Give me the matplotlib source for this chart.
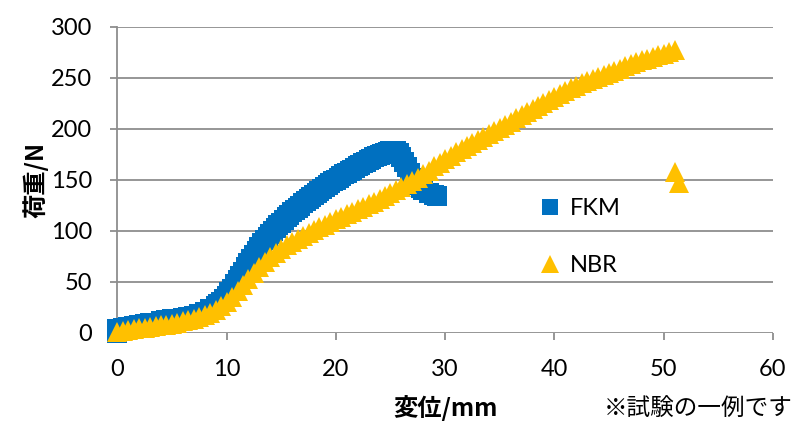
import matplotlib
matplotlib.use("Agg")
import matplotlib.pyplot as plt

# 変位 (mm) と 荷重 (N) -- グラフから読み取った値
fkm_x = [0, 0, 0.5, 1, 1.5, 2, 2.5, 3, 3.5, 4, 4.5, 5, 5.5, 6, 6.5, 7, 7.5, 8, 8.5,
         9, 9.25, 9.5, 9.75, 10, 10.25, 10.5, 10.75, 11, 11.25, 11.5, 11.75,
         12, 12.25, 12.5, 12.75, 13, 13.25, 13.5, 13.75, 14, 14.25, 14.5, 14.75,
         15, 15.25, 15.5, 15.75, 16, 16.25, 16.5, 16.75, 17, 17.25, 17.5, 17.75,
         18, 18.25, 18.5, 18.75, 19, 19.25, 19.5, 19.75, 20, 20.25, 20.5, 20.75,
         21, 21.25, 21.5, 21.75, 22, 22.25, 22.5, 22.75, 23, 23.25, 23.5, 23.75,
         24, 24.25, 24.5, 24.75, 25, 25.25, 25.5, 25.75, 26, 26.25, 26.5, 26.75,
         27, 27.25, 27.5, 27.75, 28, 28.5, 29, 29.3]
fkm_y = [0, 4, 5, 6, 7, 8, 9, 9.5, 10, 11, 12, 13, 13.5, 14.5, 15.5, 16.5, 18, 20, 23,
         26, 28, 30, 33, 36, 39.5, 43, 47.5, 52, 56, 60, 64,
         68, 72, 76, 80, 84, 87.5, 91, 94, 97, 100, 103, 105.5,
         108, 110.5, 113, 115.5, 118, 120, 122, 124.5, 127, 129, 131, 133,
         135, 137, 139, 141, 143, 145, 147, 148.5, 150, 152, 154, 155.5,
         157, 158.5, 160, 161.5, 163, 164.5, 166, 167.5, 169, 170.5, 172, 173,
         174, 175, 176, 177, 178, 178, 178, 176, 172, 167, 162, 157,
         152, 148, 145, 142, 140, 137, 135, 134]

nbr_x = [0, 0.5, 1, 1.5, 2, 2.5, 3, 3.5, 4, 4.5, 5, 5.5, 6, 6.5, 7, 7.5, 8, 8.5, 9, 9.5,
         10, 10.5, 11, 11.5, 12, 12.5, 13, 13.5, 14, 14.5, 15, 15.5, 16, 16.5, 17, 17.5,
         18, 18.5, 19, 19.5, 20, 20.5, 21, 21.5, 22, 22.5, 23, 23.5, 24, 24.5, 25, 25.5,
         26, 26.5, 27, 27.5, 28, 28.5, 29, 29.5, 30, 30.5, 31, 31.5, 32, 32.5, 33, 33.5,
         34, 34.5, 35, 35.5, 36, 36.5, 37, 37.5, 38, 38.5, 39, 39.5, 40, 40.5, 41, 41.5,
         42, 42.5, 43, 43.5, 44, 44.5, 45, 45.5, 46, 46.5, 47, 47.5, 48, 48.5, 49, 49.5,
         50, 50.5, 51, 51, 51.4]
nbr_y = [1, 2, 3, 3.5, 4.5, 5, 6, 7, 7.5, 8, 9, 10, 11, 12, 13.5, 15, 17, 19, 22, 26,
         30, 35, 41, 47, 53, 59, 64, 69, 74, 78, 82, 86, 89, 92, 95, 98,
         101, 103.5, 106, 108.5, 111, 113.5, 116, 118.5, 121, 123.5, 126, 128.5, 131, 134, 137, 140,
         143, 146, 149, 152, 156, 159, 163, 166, 170, 173, 177, 180, 183, 186, 189, 192,
         195, 198, 201, 204, 207, 210, 213, 216, 219, 222, 225, 228, 231, 234, 237, 239.5,
         242, 244.5, 247, 249, 251, 253, 255, 257, 259, 261, 263, 265, 267, 268.5, 270, 272,
         273.5, 275, 277, 158, 147]

plt.rcParams['font.family'] = ['Lato', 'Noto Sans CJK JP']
jp = ['Noto Sans CJK JP', 'DejaVu Sans']
grid_c = '#8e8e8e'

fig = plt.figure(figsize=(7.98, 4.21), dpi=100)
ax = fig.add_axes([0.147, 0.2097, 0.8216, 0.7269])

ax.plot(fkm_x, fkm_y, 's', color='#0070C0', ms=14, mew=0, clip_on=False, label='FKM', zorder=3)
ax.plot(nbr_x, nbr_y, '^', color='#FFC000', ms=14.5, mew=0, clip_on=False, label='NBR', zorder=4)

ax.set_xlim(0, 60)
ax.set_ylim(0, 300)
ax.set_xticks(range(0, 61, 10))
ax.set_yticks(range(0, 301, 50))
ax.yaxis.grid(True, color=grid_c, lw=1.3)
ax.set_axisbelow(True)
for s in ['top', 'right', 'bottom']:
    ax.spines[s].set_visible(False)
ax.spines['left'].set_color(grid_c)
ax.spines['left'].set_linewidth(1.3)
ax.tick_params(axis='y', length=5, width=1.3, color=grid_c, pad=13, labelsize=17)
ax.tick_params(axis='x', length=5, width=1.3, color=grid_c, pad=14, labelsize=17)

ax.set_xlabel('変位/mm', family=jp, fontsize=17.5, fontweight='bold')
ax.xaxis.set_label_coords(0.5, -0.246)
ax.xaxis.label.set_verticalalignment('center')
ax.set_ylabel('荷重/N', family=jp, fontsize=17.5, fontweight='bold')
ax.yaxis.set_label_coords(-0.1255, 0.5)
ax.yaxis.label.set_verticalalignment('center')

fig.text(698 / 798, 1 - 408 / 421, '※試験の一例です', family=jp, fontsize=17,
         ha='center', va='center')

ax.legend(loc='upper left', bbox_to_anchor=(0.613, 0.51), frameon=False, fontsize=17,
          markerscale=0.85, handlelength=0.8, handletextpad=0.45, labelspacing=1.55)

fig.savefig('out.png', dpi=100)
